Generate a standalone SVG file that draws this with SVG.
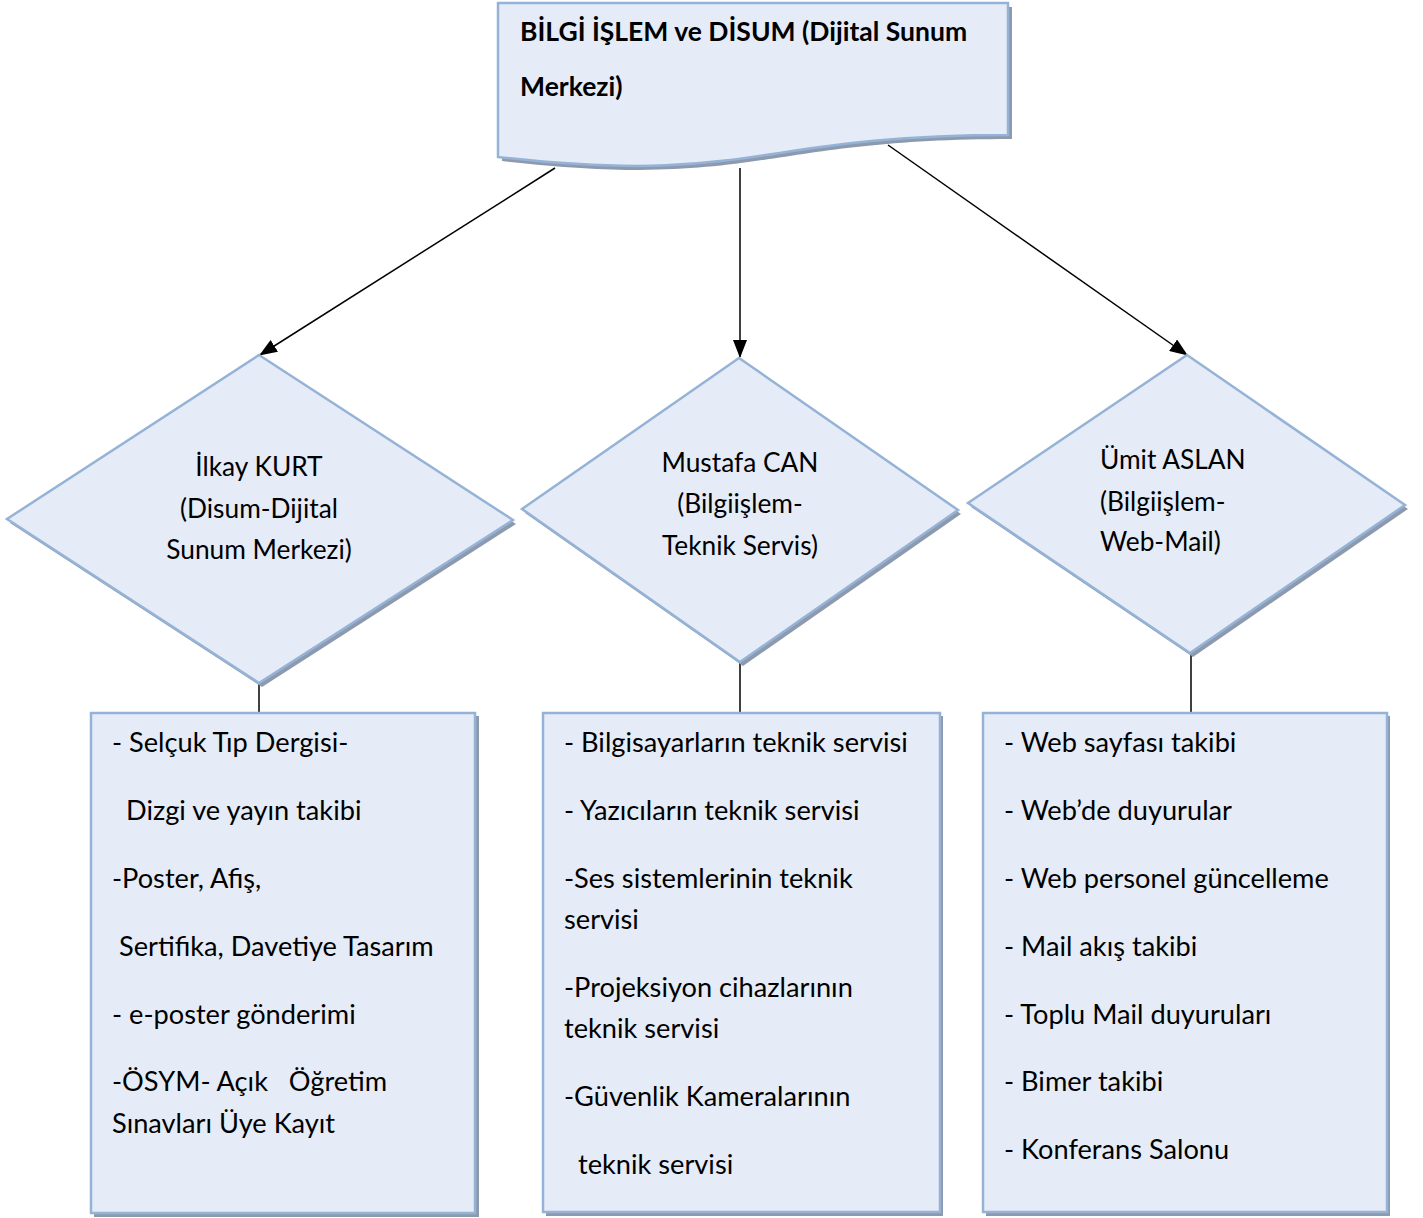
<svg xmlns="http://www.w3.org/2000/svg" width="1423" height="1218" viewBox="0 0 1423 1218">
<style>
.shape{fill:#E5ECF7;stroke:#95B3D7;stroke-width:2.5}
.shadow{fill:#8D9AAE}
.t{font-family:Lato,"Liberation Sans",sans-serif;font-size:27.2px;fill:#000}
.d{font-family:Lato,"Liberation Sans",sans-serif;font-size:26.3px;fill:#000}
.c{text-anchor:middle}
.b{font-family:Lato,"Liberation Sans",sans-serif;font-size:26.5px;font-weight:bold;fill:#000}
.conn{stroke:#000;stroke-width:1.5;fill:none}
</style>
<defs>
<marker id="arr" viewBox="0 0 18 14" refX="17" refY="7" markerWidth="18" markerHeight="14" markerUnits="userSpaceOnUse" orient="auto">
<path d="M0,0 L18,7 L0,14 Z" fill="#000"/>
</marker>
</defs>
<rect width="1423" height="1218" fill="#fff"/>

<g id="connectors">
<line class="conn" x1="555" y1="168" x2="260" y2="355" marker-end="url(#arr)"/>
<line class="conn" x1="740" y1="168" x2="740" y2="357" marker-end="url(#arr)"/>
<line class="conn" x1="888" y1="145" x2="1187" y2="355" marker-end="url(#arr)"/>
<line class="conn" x1="259" y1="683" x2="259" y2="713"/>
<line class="conn" x1="740" y1="662" x2="740" y2="713"/>
<line class="conn" x1="1191" y1="653" x2="1191" y2="713"/>
</g>

<g id="top">
<path class="shadow" d="M502,7 H1012 V139 C757,139 757,190 502,161 Z"/>
<path class="shape" d="M498,3 H1008 V135 C753,135 753,186 498,157 Z"/>
<text class="b" x="520" y="41">BİLGİ İŞLEM ve DİSUM (Dijital Sunum</text>
<text class="b" x="520" y="96">Merkezi)</text>
</g>

<g id="d1">
<path class="shadow" d="M262,359 L516,524 L262,687 L10,523 Z"/>
<path class="shape" d="M259,355 L513,520 L259,683 L7,519 Z"/>
<text class="d c" x="259" y="476">İlkay KURT</text>
<text class="d c" x="259" y="518">(Disum-Dijital</text>
<text class="d c" x="259" y="559">Sunum Merkezi)</text>
</g>

<g id="d2">
<path class="shadow" d="M743,362 L961,514 L743,666 L525,513 Z"/>
<path class="shape" d="M739,358 L958,510 L740,662 L522,509 Z"/>
<text class="d c" x="740" y="472">Mustafa CAN</text>
<text class="d c" x="740" y="513">(Bilgiişlem-</text>
<text class="d c" x="740" y="555">Teknik Servis)</text>
</g>

<g id="d3">
<path class="shadow" d="M1190,359 L1408,509 L1193,657 L971,507 Z"/>
<path class="shape" d="M1187,355 L1405,505 L1190,653 L968,503 Z"/>
<text class="d" x="1100" y="469">Ümit ASLAN</text>
<text class="d" x="1100" y="511">(Bilgiişlem-</text>
<text class="d" x="1100" y="551">Web-Mail)</text>
</g>

<g id="b1">
<rect class="shadow" x="94" y="716" width="385" height="501"/>
<rect class="shape" x="91" y="713" width="384" height="500"/>
<text class="t" x="112" y="752">- Selçuk Tıp Dergisi-</text>
<text class="t" x="126" y="820">Dizgi ve yayın takibi</text>
<text class="t" x="112" y="888">-Poster, Afiş,</text>
<text class="t" x="119" y="956">Sertifika, Davetiye Tasarım</text>
<text class="t" x="112" y="1024">- e-poster gönderimi</text>
<text class="t" x="112" y="1091" style="white-space:pre">-ÖSYM- Açık   Öğretim</text>
<text class="t" x="112" y="1133">Sınavları Üye Kayıt</text>
</g>

<g id="b2">
<rect class="shadow" x="546" y="716" width="397" height="500"/>
<rect class="shape" x="543" y="713" width="397" height="499"/>
<text class="t" x="564" y="752">- Bilgisayarların teknik servisi</text>
<text class="t" x="564" y="820">- Yazıcıların teknik servisi</text>
<text class="t" x="564" y="888">-Ses sistemlerinin teknik</text>
<text class="t" x="564" y="929">servisi</text>
<text class="t" x="564" y="997">-Projeksiyon cihazlarının</text>
<text class="t" x="564" y="1038">teknik servisi</text>
<text class="t" x="564" y="1106">-Güvenlik Kameralarının</text>
<text class="t" x="578" y="1174">teknik servisi</text>
</g>

<g id="b3">
<rect class="shadow" x="986" y="716" width="404" height="500"/>
<rect class="shape" x="983" y="713" width="404" height="499"/>
<text class="t" x="1004" y="752">- Web sayfası takibi</text>
<text class="t" x="1004" y="820">- Web’de duyurular</text>
<text class="t" x="1004" y="888">- Web personel güncelleme</text>
<text class="t" x="1004" y="956">- Mail akış takibi</text>
<text class="t" x="1004" y="1024">- Toplu Mail duyuruları</text>
<text class="t" x="1004" y="1091">- Bimer takibi</text>
<text class="t" x="1004" y="1159">- Konferans Salonu</text>
</g>
</svg>
